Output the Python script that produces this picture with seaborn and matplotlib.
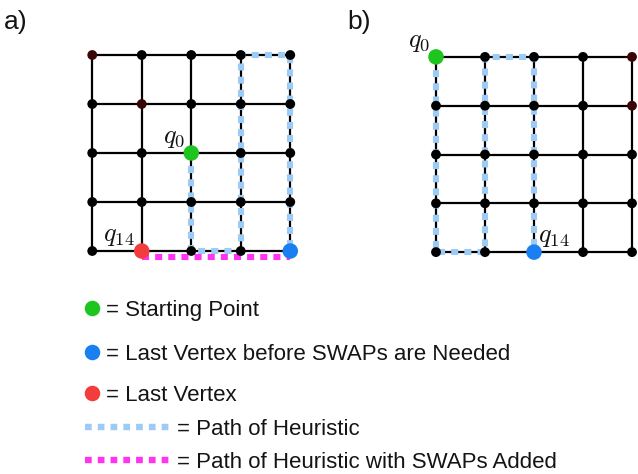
#!/usr/bin/env python3

import matplotlib
matplotlib.use("Agg")
import matplotlib.pyplot as plt
import matplotlib.transforms as mtransforms
import pandas as pd
import seaborn as sns

# grid nodes are (column, row), row 0 at the top
N = 5
a_start = (2, 2)
a_before_swap = (4, 4)
a_last = (1, 4)
a_dark = [(0, 0), (1, 1)]
a_path = [(2, 2), (2, 4), (3, 4), (3, 0), (4, 0), (4, 4)]
a_swap_path = [(1, 4), (4, 4)]

b_start = (0, 0)
b_before_swap = (2, 4)
b_dark = [(4, 0), (4, 1)]
b_path = [(0, 0), (0, 4), (1, 4), (1, 0), (2, 0), (2, 4)]

legend_dots = ["= Starting Point", "= Last Vertex before SWAPs are Needed", "= Last Vertex"]
legend_lines = ["= Path of Heuristic", "= Path of Heuristic with SWAPs Added"]

GREEN = "#1fc51f"
BLUE = "#1a80f2"
RED = "#f33c3c"
LIGHT_BLUE = "#9ccbf5"
MAGENTA = "#ff33f2"
DARK = "#3a0606"
TEXT = "#141414"


def draw_grid(ax, dark, path, start, before_swap, last=None, swap_path=None,
              q14_node=None, q14_side="right"):
    for i in range(N):
        ax.plot([0, N - 1], [i, i], color="black", lw=1.6, zorder=1)
        ax.plot([i, i], [0, N - 1], color="black", lw=1.6, zorder=1)

    px, py = zip(*path)
    ax.plot(px, py, color=LIGHT_BLUE, lw=4.4, dashes=(1.15, 1.0), zorder=2)

    if swap_path is not None:
        shift = mtransforms.ScaledTranslation(0, -6 / 100, ax.figure.dpi_scale_trans)
        sx, sy = zip(*swap_path)
        ax.plot(sx, sy, color=MAGENTA, lw=4.4, dashes=(1.15, 1.0), zorder=2,
                transform=ax.transData + shift)

    nodes = pd.DataFrame([(c, r) for c in range(N) for r in range(N)], columns=["col", "row"])
    nodes["kind"] = ["dark" if (c, r) in dark else "plain" for c, r in zip(nodes.col, nodes.row)]
    sns.scatterplot(data=nodes, x="col", y="row", hue="kind",
                    palette={"plain": "black", "dark": DARK}, s=50, linewidth=0,
                    legend=False, ax=ax, zorder=3)

    special = [(start, GREEN), (before_swap, BLUE)]
    if last is not None:
        special.append((last, RED))
    sp = pd.DataFrame([(p[0], p[1], c) for p, c in special], columns=["col", "row", "color"])
    sns.scatterplot(data=sp, x="col", y="row", hue="color",
                    palette={c: c for c in sp.color}, s=125, linewidth=0,
                    legend=False, ax=ax, zorder=4)

    ax.annotate("$q_0$", xy=start, xytext=(-4, 2), textcoords="offset points",
                ha="right", va="bottom", fontsize=19, color=TEXT, zorder=5)
    if q14_side == "left":
        ax.annotate("$q_{14}$", xy=q14_node, xytext=(-5, 2), textcoords="offset points",
                    ha="right", va="bottom", fontsize=19, color=TEXT, zorder=5)
    else:
        ax.annotate("$q_{14}$", xy=q14_node, xytext=(3, 2), textcoords="offset points",
                    ha="left", va="bottom", fontsize=19, color=TEXT, zorder=5)

    ax.set_xlim(-0.5, N - 0.5)
    ax.set_ylim(N - 0.5, -0.5)
    ax.set_axis_off()


def main():
    sns.set_theme(style="white")
    plt.rcParams["font.family"] = ["Liberation Sans", "DejaVu Sans"]
    plt.rcParams["mathtext.fontset"] = "cm"

    W, H = 638, 474
    fig = plt.figure(figsize=(W / 100, H / 100), dpi=100)

    ax_a = fig.add_axes([67.5 / W, 1 - 275.5 / H, 247.5 / W, 245 / H])
    draw_grid(ax_a, a_dark, a_path, a_start, a_before_swap, last=a_last,
              swap_path=a_swap_path, q14_node=a_last, q14_side="left")

    ax_b = fig.add_axes([411.5 / W, 1 - 276.5 / H, 245 / W, 244 / H])
    draw_grid(ax_b, b_dark, b_path, b_start, b_before_swap,
              q14_node=b_before_swap, q14_side="right")

    # overlay in pixel coordinates for panel labels and the key
    ov = fig.add_axes([0, 0, 1, 1], zorder=10)
    ov.set_xlim(0, W)
    ov.set_ylim(H, 0)
    ov.set_axis_off()
    ov.patch.set_alpha(0)

    ov.text(4, 29, "a)", fontsize=19, va="baseline", color=TEXT)
    ov.text(347, 29, "b)", fontsize=19, va="baseline", color=TEXT)

    for label, color, y in zip(legend_dots, [GREEN, BLUE, RED], [308, 352, 393]):
        ov.scatter([92], [y], s=125, color=color, linewidth=0)
        ov.text(106, y + 8, label, fontsize=16, va="baseline", color=TEXT)
    for label, color, y in zip(legend_lines, [LIGHT_BLUE, MAGENTA], [427, 460]):
        ov.plot([85, 172], [y, y], color=color, lw=4.6, dashes=(1.05, 0.95))
        ov.text(177, y + 8, label, fontsize=16, va="baseline", color=TEXT)

    fig.savefig("out.png", dpi=100)
    plt.close(fig)


if __name__ == "__main__":
    main()
